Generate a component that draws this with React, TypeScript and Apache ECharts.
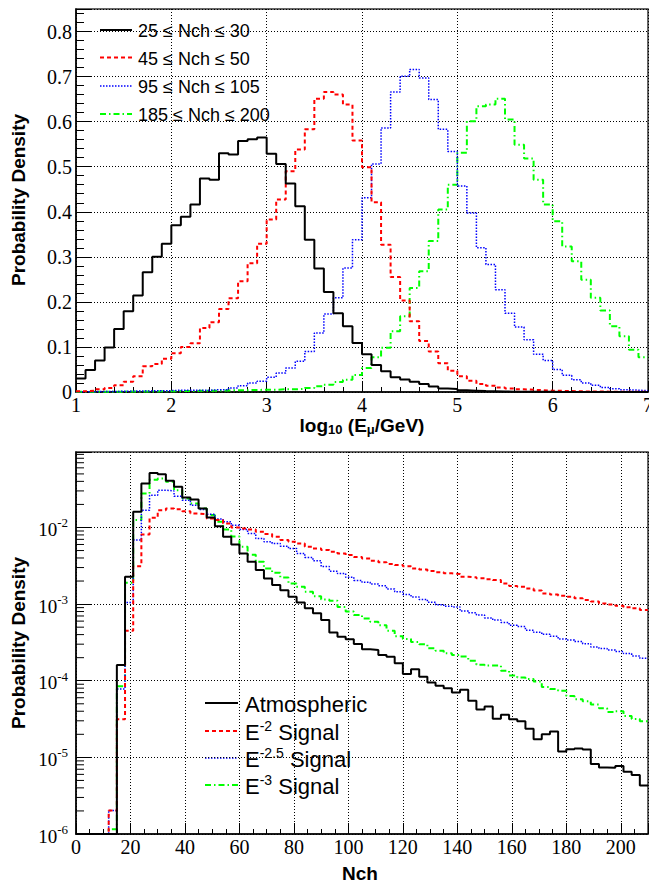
import { useEffect, useRef } from 'react';
import * as echarts from 'echarts';

// ---------------- Top panel: log10(E_mu/GeV) histograms ----------------
const energyBinStart = 1.0;
const energyBinWidth = 0.1;

const nch25to30 = [
  0.03, 0.049, 0.07, 0.099, 0.14, 0.179, 0.214, 0.266, 0.3, 0.329,
  0.37, 0.389, 0.416, 0.474, 0.471, 0.53, 0.527, 0.557, 0.561, 0.565,
  0.529, 0.506, 0.463, 0.412, 0.338, 0.274, 0.222, 0.175, 0.146, 0.109,
  0.084, 0.06, 0.046, 0.033, 0.028, 0.023, 0.018, 0.012, 0.0075, 0.0067,
  0.004, 0.003, 0.002, 0.0015, 0.001, 0.0008, 0.0006, 0.0005, 0.0004, 0.0003,
  0.0002, 0.0002, 0.0001, 0.0001, 0.0001, 0.00005, 0.00005, 0, 0, 0,
];
const nch45to50 = [
  0.0015, 0.003, 0.006, 0.009, 0.015, 0.023, 0.035, 0.057, 0.062, 0.074,
  0.086, 0.1, 0.108, 0.142, 0.155, 0.184, 0.208, 0.246, 0.286, 0.329,
  0.383, 0.427, 0.49, 0.538, 0.583, 0.651, 0.666, 0.66, 0.638, 0.558,
  0.499, 0.421, 0.327, 0.255, 0.203, 0.157, 0.113, 0.09, 0.064, 0.047,
  0.035, 0.025, 0.018, 0.014, 0.01, 0.008, 0.006, 0.005, 0.004, 0.003,
  0.0025, 0.002, 0.0015, 0.0012, 0.001, 0.0008, 0.0006, 0.0005, 0.0004, 0.0003,
];
const nch95to105 = [
  0.0005, 0.0008, 0.001, 0.0012, 0.0015, 0.002, 0.002, 0.0025, 0.003, 0.003,
  0.004, 0.004, 0.004, 0.004, 0.005, 0.005, 0.009, 0.014, 0.02, 0.024,
  0.033, 0.042, 0.053, 0.068, 0.09, 0.131, 0.173, 0.209, 0.275, 0.338,
  0.431, 0.506, 0.586, 0.666, 0.701, 0.716, 0.697, 0.649, 0.583, 0.534,
  0.457, 0.397, 0.32, 0.283, 0.227, 0.175, 0.144, 0.116, 0.084, 0.07,
  0.05, 0.037, 0.027, 0.02, 0.015, 0.01, 0.007, 0.005, 0.004, 0.003,
];
const nch185to200 = [
  0.0003, 0.0004, 0.0005, 0.0006, 0.0008, 0.001, 0.001, 0.0012, 0.0015, 0.0015,
  0.002, 0.002, 0.0025, 0.003, 0.003, 0.0035, 0.004, 0.004, 0.0045, 0.005,
  0.005, 0.006, 0.006, 0.007, 0.009, 0.013, 0.016, 0.022, 0.027, 0.038,
  0.053, 0.077, 0.098, 0.135, 0.168, 0.231, 0.268, 0.335, 0.405, 0.46,
  0.531, 0.601, 0.634, 0.638, 0.651, 0.605, 0.549, 0.518, 0.471, 0.416,
  0.379, 0.323, 0.29, 0.249, 0.209, 0.181, 0.146, 0.124, 0.094, 0.077,
];
const topLegendLabels = ['25 \u2264 Nch \u2264 30', '45 \u2264 Nch \u2264 50', '95 \u2264 Nch \u2264 105', '185 \u2264 Nch \u2264 200'];

// ---------------- Bottom panel: Nch distributions ----------------
const nchBinStart = 0;
const nchBinWidth = 3;

const atmospheric = [
  0, 0, 0, 0, 0, 1.61e-4, 2.28e-3, 1.6e-2, 3.74e-2, 5.15e-2,
  4.95e-2, 4.06e-2, 3.39e-2, 2.46e-2, 2.32e-2, 1.77e-2, 1.35e-2, 1.04e-2, 7.55e-3, 6.0e-3,
  4.58e-3, 3.57e-3, 2.78e-3, 2.16e-3, 1.77e-3, 1.52e-3, 1.25e-3, 1.05e-3, 8.8e-4, 7.6e-4,
  6.2e-4, 4.25e-4, 3.76e-4, 3.48e-4, 3.02e-4, 2.57e-4, 2.52e-4, 2.17e-4, 2.06e-4, 1.69e-4,
  1.22e-4, 1.41e-4, 1.13e-4, 9.5e-5, 8.6e-5, 8.0e-5, 7.0e-5, 7.6e-5, 5.5e-5, 4.2e-5,
  4.6e-5, 3.2e-5, 3.6e-5, 3.15e-5, 2.96e-5, 2.36e-5, 1.73e-5, 2.0e-5, 2.17e-5, 1.19e-5,
  1.28e-5, 1.31e-5, 1.27e-5, 8.2e-6, 7.4e-6, 7.3e-6, 7.7e-6, 6.5e-6, 5.9e-6, 4.3e-6,
];
const signalE2 = [
  0, 0, 0, 0, 2.03e-6, 3.14e-5, 4.5e-4, 3.13e-3, 8.1e-3, 1.34e-2,
  1.68e-2, 1.77e-2, 1.73e-2, 1.63e-2, 1.52e-2, 1.49e-2, 1.31e-2, 1.25e-2, 1.13e-2, 1.0e-2,
  9.7e-3, 9.4e-3, 8.8e-3, 8.2e-3, 7.55e-3, 6.84e-3, 6.5e-3, 6.2e-3, 5.6e-3, 5.3e-3,
  5.07e-3, 4.82e-3, 4.57e-3, 4.37e-3, 4.12e-3, 3.94e-3, 3.68e-3, 3.51e-3, 3.35e-3, 3.24e-3,
  3.13e-3, 2.92e-3, 2.82e-3, 2.7e-3, 2.6e-3, 2.52e-3, 2.47e-3, 2.28e-3, 2.24e-3, 2.17e-3,
  2.11e-3, 2.06e-3, 1.86e-3, 1.72e-3, 1.68e-3, 1.6e-3, 1.51e-3, 1.38e-3, 1.33e-3, 1.29e-3,
  1.25e-3, 1.19e-3, 1.13e-3, 1.08e-3, 1.02e-3, 9.9e-4, 9.5e-4, 9.1e-4, 8.8e-4, 8.4e-4,
];
const signalE25 = [
  0, 0, 0, 0, 2.03e-6, 7.8e-5, 1.05e-3, 6.84e-3, 1.68e-2, 2.64e-2,
  3.06e-2, 3.0e-2, 2.56e-2, 2.27e-2, 1.95e-2, 1.72e-2, 1.49e-2, 1.29e-2, 1.19e-2, 1.07e-2,
  9.4e-3, 8.35e-3, 7.2e-3, 6.5e-3, 6.2e-3, 5.7e-3, 5.3e-3, 4.58e-3, 4.06e-3, 3.68e-3,
  3.09e-3, 2.69e-3, 2.51e-3, 2.24e-3, 2.04e-3, 1.93e-3, 1.83e-3, 1.74e-3, 1.58e-3, 1.45e-3,
  1.33e-3, 1.24e-3, 1.15e-3, 1.06e-3, 9.8e-4, 9.4e-4, 9.2e-4, 8.1e-4, 7.7e-4, 7.2e-4,
  6.6e-4, 6.2e-4, 5.75e-4, 5.3e-4, 5.1e-4, 4.57e-4, 4.3e-4, 4.03e-4, 3.8e-4, 3.5e-4,
  3.39e-4, 3.24e-4, 3.05e-4, 2.75e-4, 2.63e-4, 2.51e-4, 2.4e-4, 2.26e-4, 2.11e-4, 1.96e-4,
];
const signalE3 = [
  0, 0, 0, 0, 1.15e-6, 8.5e-5, 1.9e-3, 1.25e-2, 2.77e-2, 4.2e-2,
  4.35e-2, 3.94e-2, 3.06e-2, 2.39e-2, 2.06e-2, 1.77e-2, 1.45e-2, 1.19e-2, 9.4e-3, 7.6e-3,
  5.6e-3, 4.4e-3, 3.57e-3, 2.92e-3, 2.57e-3, 2.23e-3, 1.86e-3, 1.69e-3, 1.45e-3, 1.27e-3,
  1.15e-3, 1.11e-3, 9.2e-4, 8.0e-4, 7.2e-4, 6.5e-4, 5.9e-4, 5.3e-4, 4.5e-4, 3.8e-4,
  3.5e-4, 3.2e-4, 3.0e-4, 2.65e-4, 2.47e-4, 2.28e-4, 2.17e-4, 2.07e-4, 1.82e-4, 1.62e-4,
  1.58e-4, 1.58e-4, 1.35e-4, 1.17e-4, 1.1e-4, 1.05e-4, 9.8e-5, 8.3e-5, 7.8e-5, 7.4e-5,
  6.3e-5, 5.75e-5, 5.4e-5, 4.9e-5, 4.37e-5, 3.9e-5, 4.0e-5, 3.47e-5, 3.16e-5, 2.95e-5,
];
const bottomLegendLabels = [
  '{n|Atmospheric}',
  '{n|E}{s|-2}{n| Signal}',
  '{n|E}{s|-2.5}{n| Signal}',
  '{n|E}{s|-3}{n| Signal}',
];

// axis ranges
const LOG_MIN = -6;
const LOG_MAX = -1.015;

// ---------------- styles ----------------
const lineStyles: any[] = [
  { color: '#000000', width: 2, type: 'solid', dash: [] as number[] },
  { color: '#ff0000', width: 2, type: [4, 3], dash: [4, 3] },
  { color: '#0000ff', width: 1.5, type: [1.5, 1.5], dash: [1.5, 1.5] },
  { color: '#00ff00', width: 2, type: [6, 3, 1.5, 3], dash: [6, 3, 1.5, 3] },
];

const SERIF = 'Liberation Serif';
const SANS = 'Liberation Sans';

function stepData(start: number, width: number, vals: number[], map: (v: number) => number) {
  const pts = vals.map((v, i) => [start + i * width, map(v)]);
  pts.push([start + vals.length * width, map(vals[vals.length - 1])]);
  return pts;
}
const ident = (v: number) => v;
const toLog = (v: number) => (v > 0 ? Math.max(Math.log10(v), LOG_MIN) : LOG_MIN);

export default function App() {
  const ref = useRef<HTMLDivElement>(null);
  useEffect(() => {
    if (!ref.current) return;
    const chart = echarts.init(ref.current, undefined, { renderer: 'svg' });

    const G0 = { left: 76, top: 9, width: 572, height: 383 };
    const G1 = { left: 76, top: 452, width: 572, height: 382 };

    const gridLine = { show: true, lineStyle: { color: '#000', width: 1, type: [1, 2] } };
    const axisLineStyle = { show: true, lineStyle: { color: '#000', width: 1.5 } };

    const topSeries = [nch25to30, nch45to50, nch95to105, nch185to200].map((vals, k) => ({
      type: 'line',
      xAxisIndex: 0,
      yAxisIndex: 0,
      step: 'end',
      symbol: 'none',
      data: stepData(energyBinStart, energyBinWidth, vals, ident),
      lineStyle: { color: lineStyles[k].color, width: lineStyles[k].width, type: lineStyles[k].type },
      z: 10 - k,
    }));
    const bottomSeries = [atmospheric, signalE2, signalE25, signalE3].map((vals, k) => ({
      type: 'line',
      xAxisIndex: 1,
      yAxisIndex: 2,
      step: 'end',
      symbol: 'none',
      data: stepData(nchBinStart, nchBinWidth, vals, toLog),
      lineStyle: { color: lineStyles[k].color, width: lineStyles[k].width, type: lineStyles[k].type },
      z: 10 - k,
    }));

    const logMinor: number[][] = [];
    for (let n = LOG_MIN; n < 0; n++) {
      for (let m = 2; m <= 9; m++) {
        const v = n + Math.log10(m);
        if (v < LOG_MAX) logMinor.push([0, v]);
      }
    }

    const graphics: any[] = [];
    graphics.push({
      type: 'text', x: 18, y: 200, rotation: Math.PI / 2,
      style: { text: 'Probability Density', fontSize: 19, fontWeight: 'bold', fontFamily: SANS, fill: '#000', align: 'center', verticalAlign: 'middle', textAlign: 'center', textVerticalAlign: 'middle' },
    });
    graphics.push({
      type: 'text', x: 18, y: 643, rotation: Math.PI / 2,
      style: { text: 'Probability Density', fontSize: 19, fontWeight: 'bold', fontFamily: SANS, fill: '#000', align: 'center', verticalAlign: 'middle', textAlign: 'center', textVerticalAlign: 'middle' },
    });
    graphics.push({
      type: 'text', x: 362, y: 425,
      style: {
        text: '{m|log}{sub|10}{m| (E}{sub|\u03bc}{m|/GeV)}',
        align: 'center', verticalAlign: 'middle', textAlign: 'center', textVerticalAlign: 'middle',
        rich: {
          m: { fontSize: 19, fontWeight: 'bold', fontFamily: SANS, fill: '#000', lineHeight: 22 },
          sub: { fontSize: 13, fontWeight: 'bold', fontFamily: SANS, fill: '#000', lineHeight: 6, verticalAlign: 'bottom' },
        },
      },
    });
    graphics.push({
      type: 'text', x: 360, y: 873,
      style: { text: 'Nch', fontSize: 19, fontWeight: 'bold', fontFamily: SANS, fill: '#000', align: 'center', verticalAlign: 'middle', textAlign: 'center', textVerticalAlign: 'middle' },
    });

    const topRowsY = [30, 57.5, 86, 114];
    topLegendLabels.forEach((label, k) => {
      graphics.push({
        type: 'line',
        shape: { x1: 100, y1: topRowsY[k], x2: 132, y2: topRowsY[k] },
        style: { stroke: lineStyles[k].color, lineWidth: lineStyles[k].width, lineDash: lineStyles[k].dash },
      });
      graphics.push({
        type: 'text', x: 138, y: topRowsY[k] + 1,
        style: { text: label, fontSize: 18, fontFamily: SANS, fill: '#000', align: 'left', verticalAlign: 'middle', textAlign: 'left', textVerticalAlign: 'middle' },
      });
    });
    const botRowsY = [703, 731, 758, 785];
    bottomLegendLabels.forEach((label, k) => {
      graphics.push({
        type: 'line',
        shape: { x1: 205, y1: botRowsY[k], x2: 238, y2: botRowsY[k] },
        style: { stroke: lineStyles[k].color, lineWidth: lineStyles[k].width, lineDash: lineStyles[k].dash },
      });
      graphics.push({
        type: 'text', x: 245, y: botRowsY[k] + 1,
        style: {
          text: label, align: 'left', verticalAlign: 'middle', textAlign: 'left', textVerticalAlign: 'middle',
          rich: {
            n: { fontSize: 22, fontFamily: SANS, fill: '#000', lineHeight: 26 },
            s: { fontSize: 14, fontFamily: SANS, fill: '#000', lineHeight: 14, verticalAlign: 'top' },
          },
        },
      });
    });

    const option: any = {
      animation: false,
      backgroundColor: '#ffffff',
      grid: [
        { ...G0, show: true, borderColor: '#333', borderWidth: 1.5, backgroundColor: 'transparent', outerBoundsMode: 'none' },
        { ...G1, show: true, borderColor: '#333', borderWidth: 1.5, backgroundColor: 'transparent', outerBoundsMode: 'none' },
      ],
      xAxis: [
        {
          type: 'value', gridIndex: 0, min: 1, max: 7, interval: 1, position: 'bottom',
          axisLine: axisLineStyle,
          axisTick: { show: true, inside: true, length: 10, lineStyle: { color: '#000', width: 1 } },
          minorTick: { show: true, splitNumber: 5, length: 5, lineStyle: { color: '#000', width: 1 } },
          splitLine: gridLine,
          axisLabel: { margin: 3, fontSize: 20, fontFamily: SERIF, color: '#000', formatter: (v: number) => String(v) },
        },
        {
          type: 'value', gridIndex: 1, min: 0, max: 210, interval: 20, position: 'bottom',
          axisLine: axisLineStyle,
          axisTick: { show: true, inside: true, length: 11, lineStyle: { color: '#000', width: 1 } },
          splitLine: gridLine,
          axisLabel: {
            margin: 3, fontSize: 20, fontFamily: SERIF, color: '#000',
            formatter: (v: number) => (v % 20 === 0 ? String(v) : ''),
          },
        },
        {
          type: 'value', gridIndex: 1, min: 0, max: 210, interval: 5, position: 'bottom',
          axisLine: { show: false },
          axisTick: { show: true, inside: true, length: 5, lineStyle: { color: '#000', width: 1 } },
          splitLine: { show: false },
          axisLabel: { show: false },
        },
      ],
      yAxis: [
        {
          type: 'value', gridIndex: 0, min: 0, max: 0.85, interval: 0.1, position: 'left',
          axisLine: axisLineStyle,
          axisTick: { show: true, inside: true, length: 16, lineStyle: { color: '#000', width: 1 } },
          splitLine: gridLine,
          axisLabel: {
            margin: 4, fontSize: 20, fontFamily: SERIF, color: '#000',
            formatter: (v: number) => {
              const r = Math.round(v * 10) / 10;
              return Math.abs(v - r) < 1e-9 ? String(r) : '';
            },
          },
        },
        {
          type: 'value', gridIndex: 0, min: 0, max: 0.85, interval: 0.02, position: 'left',
          axisLine: { show: false },
          axisTick: { show: true, inside: true, length: 8, lineStyle: { color: '#000', width: 1 } },
          splitLine: { show: false },
          axisLabel: { show: false },
        },
        {
          type: 'value', gridIndex: 1, min: LOG_MIN, max: LOG_MAX, interval: 1, position: 'left',
          axisLine: axisLineStyle,
          axisTick: { show: true, inside: true, length: 16, lineStyle: { color: '#000', width: 1 } },
          splitLine: gridLine,
          axisLabel: {
            margin: 8,
            formatter: (v: number) => {
              const r = Math.round(v);
              if (Math.abs(v - r) > 1e-6) return '';
              return `{b|10}{s|${r}}`;
            },
            rich: {
              b: { fontSize: 19, fontFamily: SERIF, color: '#000', lineHeight: 22, padding: [4, 0, 0, 0] },
              s: { fontSize: 13, fontFamily: SERIF, color: '#000', lineHeight: 13, verticalAlign: 'top' },
            },
          },
        },
      ],
      series: [
        ...topSeries,
        ...bottomSeries,
        {
          type: 'custom',
          xAxisIndex: 1,
          yAxisIndex: 2,
          silent: true,
          clip: false,
          z: 20,
          data: logMinor,
          renderItem: (_params: any, api: any) => {
            const p = api.coord([0, api.value(1)]);
            return {
              type: 'line',
              shape: { x1: p[0], y1: p[1], x2: p[0] + 8, y2: p[1] },
              style: { stroke: '#000', lineWidth: 1 },
            };
          },
        },
      ],
      graphic: graphics,
    };
    chart.setOption(option);
    return () => chart.dispose();
  }, []);

  return (
    <div
      ref={ref}
      style={{ position: 'fixed', left: 0, top: 0, width: 649, height: 884, background: '#fff' }}
    />
  );
}
